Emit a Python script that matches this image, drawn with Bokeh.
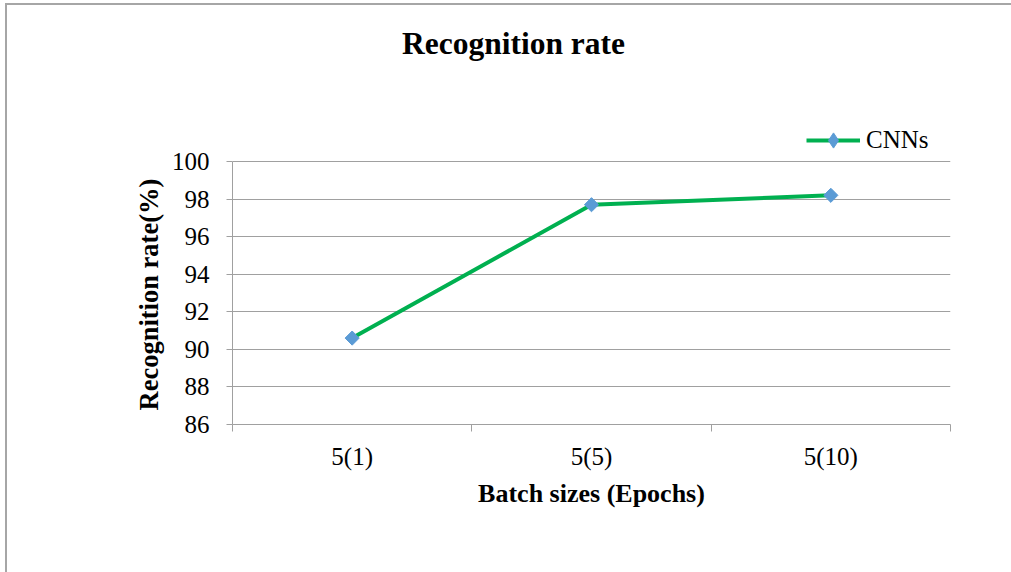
import numpy as np
from bokeh.plotting import figure
from bokeh.models import FixedTicker, Range1d, Label, Title, Legend, LegendItem, ColumnDataSource
from bokeh.embed import file_html
from bokeh.resources import INLINE

# Recognition rate of the CNN model for each batch size / epoch setting
categories = ["5(1)", "5(5)", "5(10)"]
rates = [90.6, 97.7, 98.2]
y_ticks = [86, 88, 90, 92, 94, 96, 98, 100]

SERIF = "Liberation Serif"
GREY = "#a0a0a0"
BORDER = "#a6a6a6"
LINE_GREEN = "#00B050"
MARK_BLUE = "#5B9BD5"

# page layout (pixels)
W, H = 1011, 572
AXIS_LEFT, AXIS_RIGHT = 232, 950
AXIS_TOP, AXIS_BOTTOM = 161, 424

# the frame runs up to the top of the page so that the title and legend
# can sit inside it; the axis itself is bounded to the tick range
px_per_unit = (AXIS_BOTTOM - AXIS_TOP) / (y_ticks[-1] - y_ticks[0])
y_end = y_ticks[-1] + AXIS_TOP / px_per_unit

# categories sit in the middle of equal-width slots
centers = [i + 0.5 for i in range(len(categories))]
bounds = list(range(len(categories) + 1))
src = ColumnDataSource(data=dict(x=centers, rate=rates, cat=categories))

p = figure(
    width=W, height=H,
    output_backend="svg", toolbar_location=None,
    x_range=Range1d(0, len(categories)), y_range=Range1d(y_ticks[0], y_end),
    min_border_left=AXIS_LEFT, min_border_right=W - AXIS_RIGHT,
    min_border_top=0, min_border_bottom=H - AXIS_BOTTOM,
)
p.border_fill_alpha = 0
p.background_fill_alpha = 0
p.outline_line_color = None

# chart-area border: left and top edges
p.styles = {
    "background-color": "white",
    "box-shadow": f"inset 5px 3px 0 0 white, inset 7px 5px 0 0 {BORDER}",
}

# y axis (its title is drawn as a side title centred on the tick range)
p.yaxis.ticker = FixedTicker(ticks=y_ticks, minor_ticks=[])
p.yaxis.bounds = (y_ticks[0], y_ticks[-1])
p.yaxis.major_tick_out = 6
p.yaxis.major_tick_in = 0
p.yaxis.major_label_standoff = 17

# x axis: labels at slot centres, tick marks at slot boundaries
p.xaxis.ticker = FixedTicker(ticks=centers, minor_ticks=bounds)
p.xaxis.major_label_overrides = {c: lab for c, lab in zip(centers, categories)}
p.xaxis.axis_label = "Batch sizes (Epochs)"
p.xaxis.major_tick_out = 0
p.xaxis.major_tick_in = 0
p.xaxis.minor_tick_out = 7
p.xaxis.minor_tick_in = 0
p.xaxis.minor_tick_line_color = GREY
p.xaxis.major_label_standoff = 11
p.xaxis.axis_label_standoff = 6

for ax in (p.xaxis, p.yaxis):
    ax.axis_line_color = GREY
    ax.axis_line_width = 1
    ax.major_tick_line_color = GREY
    ax.major_label_text_font = SERIF
    ax.major_label_text_font_size = "25px"
    ax.major_label_text_color = "black"
    ax.axis_label_text_font = SERIF
    ax.axis_label_text_font_size = "26px"
    ax.axis_label_text_font_style = "bold"
    ax.axis_label_text_color = "black"

y_title = Title(
    text="Recognition rate(%)", align="left", offset=14, standoff=9,
    text_font=SERIF, text_font_size="26.5px", text_font_style="bold",
    text_color="black",
)
p.add_layout(y_title, "left")

p.xgrid.grid_line_color = None
p.ygrid.grid_line_color = GREY
p.ygrid.grid_line_width = 1

line_r = p.line("x", "rate", source=src, line_color=LINE_GREEN, line_width=4)
mark_r = p.scatter("x", "rate", source=src, marker="square", angle=np.pi / 4,
                   size=10, fill_color=MARK_BLUE, line_color=MARK_BLUE)

# legend key marker: same points, hidden on the plot, shown only as the key
key_r = p.scatter("x", "rate", source=src, marker="diamond", size=17,
                  fill_color=MARK_BLUE, line_color=MARK_BLUE, visible=False)

KEY_H = 38
legend = Legend(
    items=[LegendItem(label="CNNs", renderers=[line_r, key_r])],
    location=(806 - AXIS_LEFT, AXIS_BOTTOM - 140 - KEY_H // 2),
    orientation="vertical",
    padding=0, margin=0, spacing=0,
    glyph_width=54, glyph_height=KEY_H, label_standoff=6,
    label_text_font=SERIF, label_text_font_size="25px",
    label_text_color="black",
    border_line_color=None, background_fill_alpha=0,
)
p.add_layout(legend, "center")

title = Label(
    x=513 - AXIS_LEFT, y=AXIS_BOTTOM - 43, x_units="screen", y_units="screen",
    text="Recognition rate", text_align="center", text_baseline="middle",
    text_font=SERIF, text_font_size="31.5px", text_font_style="bold",
    text_color="black",
)
p.add_layout(title)

open("out.html", "w").write(file_html(p, INLINE))
